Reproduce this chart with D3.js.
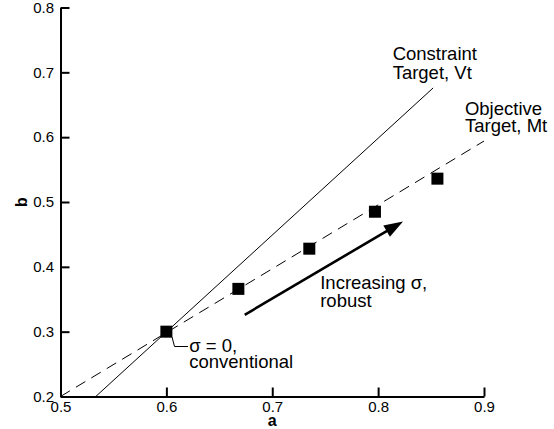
<!DOCTYPE html>
<html><head><meta charset="utf-8">
<script src="https://cdn.jsdelivr.net/npm/d3@7"></script>
<style>body{margin:0;background:#fff}svg{display:block}</style>
</head><body><svg id="c" width="554" height="429"></svg>
<script>
// ---- data ----
const xTicks = [0.5, 0.6, 0.7, 0.8, 0.9];
const yTicks = [0.2, 0.3, 0.4, 0.5, 0.6, 0.7, 0.8];
const pointA = [0.6, 0.668, 0.735, 0.797, 0.856];
const pointB = [0.3, 0.366, 0.428, 0.485, 0.536];
const constraintA = [0.5333, 0.852];
const constraintB = [0.2, 0.676];
const objectiveA = [0.5, 0.9];
const objectiveB = [0.2, 0.594];
const arrowA = [0.674, 0.8235];
const arrowB = [0.326, 0.47];
const labelTexts = [["Constraint", "Target, Vt"], ["Objective", "Target, Mt"], ["Increasing σ,", "robust"], ["σ = 0,", "conventional"]];
const labelA = [0.8137, 0.882, 0.7453, 0.6216];
const labelB = [0.719, 0.634, 0.3652, 0.2691];
const leaderA = [0.6053, 0.6077, 0.6204];
const leaderB = [0.2918, 0.2771, 0.2771];

// ---- layout ----
const svg = d3.select("#c");
const x = d3.scaleLinear().domain([0.5, 0.9]).range([60.5, 484]);
const y = d3.scaleLinear().domain([0.2, 0.8]).range([396.5, 7.5]);
const font = "'Liberation Sans', Arial, Helvetica, sans-serif";

// lines
const line = d3.line().x(d => x(d[0])).y(d => y(d[1]));
svg.append("path").attr("d", line(d3.zip(constraintA, constraintB)))
  .attr("fill", "none").attr("stroke", "#000").attr("stroke-width", 1);
svg.append("path").attr("d", line(d3.zip(objectiveA, objectiveB)))
  .attr("fill", "none").attr("stroke", "#000").attr("stroke-width", 1)
  .attr("stroke-dasharray", "11,7");

// axes
const gx = svg.append("g").attr("transform", `translate(0,${y(0.2)})`)
  .call(d3.axisBottom(x).tickValues(xTicks).tickFormat(d3.format(".1f"))
    .tickSizeInner(-9).tickSizeOuter(0).tickPadding(5));
const gy = svg.append("g").attr("transform", `translate(${x(0.5)},0)`)
  .call(d3.axisLeft(y).tickValues(yTicks).tickFormat(d3.format(".1f"))
    .tickSizeInner(-9).tickSizeOuter(0).tickPadding(6.5));
[gx, gy].forEach(g => {
  g.select(".domain").attr("stroke", "#000").attr("stroke-width", 2);
  g.selectAll(".tick line").attr("stroke", "#000").attr("stroke-width", 2);
  g.selectAll(".tick text").attr("font-family", font).attr("font-size", 15).attr("fill", "#000");
});

// axis titles
svg.append("text").attr("x", (x(0.5) + x(0.9)) / 2).attr("y", 426)
  .attr("text-anchor", "middle").attr("font-family", font).attr("font-weight", "bold")
  .attr("font-size", 16).text("a");
svg.append("text").attr("transform", `translate(27,${y(0.5)}) rotate(-90)`)
  .attr("text-anchor", "middle").attr("font-family", font).attr("font-weight", "bold")
  .attr("font-size", 16).text("b");

// points
const sq = 12;
svg.selectAll("rect.pt").data(d3.zip(pointA, pointB)).join("rect").attr("class", "pt")
  .attr("x", d => x(d[0]) - sq / 2).attr("y", d => y(d[1]) - sq / 2)
  .attr("width", sq).attr("height", sq).attr("fill", "#000");

// arrow
const ax0 = x(arrowA[0]), ay0 = y(arrowB[0]), ax1 = x(arrowA[1]), ay1 = y(arrowB[1]);
const ang = Math.atan2(ay1 - ay0, ax1 - ax0);
const hl = 19, hw = 6.5;
const bx = ax1 - hl * Math.cos(ang), by = ay1 - hl * Math.sin(ang);
svg.append("line").attr("x1", ax0).attr("y1", ay0).attr("x2", bx + 2 * Math.cos(ang)).attr("y2", by + 2 * Math.sin(ang))
  .attr("stroke", "#000").attr("stroke-width", 2.6);
svg.append("polygon").attr("points", [
  [ax1, ay1],
  [bx - hw * Math.sin(ang), by + hw * Math.cos(ang)],
  [bx + hw * Math.sin(ang), by - hw * Math.cos(ang)]
].map(p => p.join(",")).join(" ")).attr("fill", "#000");

// leader line
svg.append("path").attr("d", line(d3.zip(leaderA, leaderB)))
  .attr("fill", "none").attr("stroke", "#000").attr("stroke-width", 1);

// labels
const lh = [18.5, 16.8, 17.4, 16.7];
labelTexts.forEach((lines, i) => {
  const t = svg.append("text").attr("font-family", font).attr("font-size", 18.5).attr("fill", "#000");
  lines.forEach((s, j) => {
    t.append("tspan").attr("x", x(labelA[i])).attr("y", y(labelB[i]) + j * lh[i]).text(s);
  });
});
</script>
</body></html>
